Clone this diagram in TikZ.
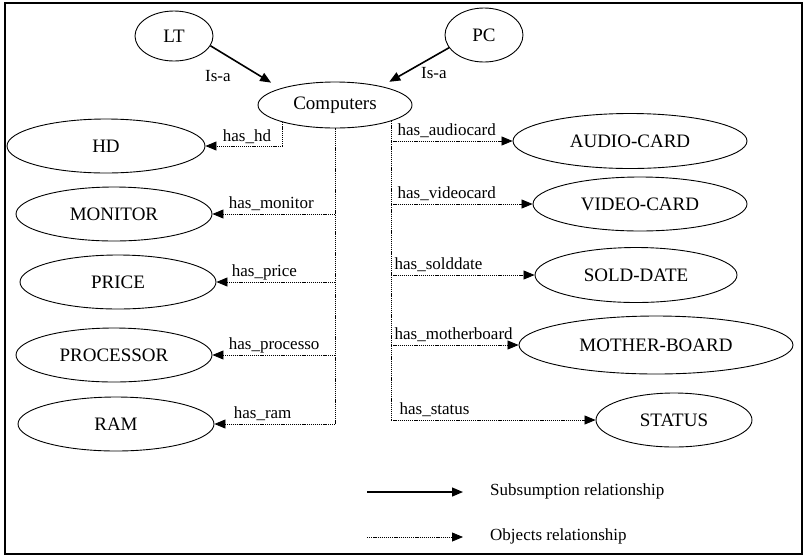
\documentclass[tikz,border=0pt]{standalone}
\usepackage{fontspec}
\setmainfont{Liberation Serif}
\usetikzlibrary{shapes.geometric,arrows.meta}
\tikzset{
  concept/.style={draw=black, line width=0.9pt, ellipse, inner sep=0pt, font=\fontsize{19}{21}\selectfont},
  subrel/.style={draw=black, line width=1.6pt, -{Triangle[length=11pt,width=9pt]}},
  objline/.style={draw=black, line width=0.8pt, dash pattern=on 1.2pt off 0.9pt},
  objrel/.style={objline, -{Triangle[length=11pt,width=9pt]}},
  rlabel/.style={font=\fontsize{17}{19}\selectfont, inner sep=0pt},
  legtext/.style={font=\fontsize{17}{19}\selectfont, inner sep=0pt, anchor=west},
}
\begin{document}
\begin{tikzpicture}[x=1pt,y=-1pt]
\useasboundingbox (0,0) rectangle (805,558);
\draw[line width=1.4pt] (5,3) rectangle (802,554);

% classes
\node[concept, minimum width=78pt, minimum height=50pt] (lt) at (174,36) {LT};
\node[concept, minimum width=78pt, minimum height=54pt] (pc) at (484,35) {PC};
\node[concept, minimum width=154pt, minimum height=46pt] (comp) at (335,105) {Computers};

% left-hand properties
\node[concept, minimum width=198pt, minimum height=54pt] (hd)   at (106,146) {HD};
\node[concept, minimum width=196pt, minimum height=54pt] (mon)  at (114,214) {MONITOR};
\node[concept, minimum width=196pt, minimum height=54pt] (pri)  at (118,282) {PRICE};
\node[concept, minimum width=196pt, minimum height=54pt] (proc) at (114,355) {PROCESSOR};
\node[concept, minimum width=196pt, minimum height=54pt] (ram)  at (116,424) {RAM};

% right-hand properties
\node[concept, minimum width=234pt, minimum height=55pt] (aud)  at (630,141) {AUDIO-CARD};
\node[concept, minimum width=214pt, minimum height=54pt] (vid)  at (640,204) {VIDEO-CARD};
\node[concept, minimum width=202pt, minimum height=55pt] (sold) at (636,275) {SOLD-DATE};
\node[concept, minimum width=274pt, minimum height=58pt] (mobo) at (656,345) {MOTHER-BOARD};
\node[concept, minimum width=156pt, minimum height=54pt] (stat) at (674,420) {STATUS};

% is-a links
\draw[subrel, shorten >=11pt] (lt.-15) -- (comp.163);
\draw[subrel, shorten >=9pt] (pc.200) -- (comp.22);
\node[rlabel, anchor=base west] (isa1) at (205,81) {Is-a};
\node[rlabel, anchor=base west] (isa2) at (421,78) {Is-a};

% has_hd
\draw[objrel] (comp.198) -- (comp.198 |- hd.east) -- (hd.east)
  node[rlabel, pos=1, anchor=base west, xshift=17pt, yshift=5pt] {has\_hd};

% left bus
\draw[objline] (comp.south) -- (comp.south |- ram.east);
\draw[objrel] (comp.south |- mon.east) -- (mon.east)
  node[rlabel, pos=1, anchor=base west, xshift=16pt, yshift=6pt] {has\_monitor};
\draw[objrel] (comp.south |- pri.east) -- (pri.east)
  node[rlabel, pos=1, anchor=base west, xshift=15pt, yshift=6pt] {has\_price};
\draw[objrel] (comp.south |- proc.east) -- (proc.east)
  node[rlabel, pos=1, anchor=base west, xshift=16pt, yshift=6pt] {has\_processo};
\draw[objrel] (comp.south |- ram.east) -- (ram.east)
  node[rlabel, pos=1, anchor=base west, xshift=19pt, yshift=6pt] {has\_ram};

% right bus
\draw[objline] (comp.-16) -- (comp.-16 |- stat.west);
\draw[objrel] (comp.-16 |- aud.west) -- (aud.west)
  node[rlabel, pos=0, anchor=base west, xshift=6pt, yshift=6pt] {has\_audiocard};
\draw[objrel] (comp.-16 |- vid.west) -- (vid.west)
  node[rlabel, pos=0, anchor=base west, xshift=6pt, yshift=6pt] {has\_videocard};
\draw[objrel] (comp.-16 |- sold.west) -- (sold.west)
  node[rlabel, pos=0, anchor=base west, xshift=3pt, yshift=6pt] {has\_solddate};
\draw[objrel] (comp.-16 |- mobo.west) -- (mobo.west)
  node[rlabel, pos=0, anchor=base west, xshift=3pt, yshift=6pt] {has\_motherboard};
\draw[objrel] (comp.-16 |- stat.west) -- (stat.west)
  node[rlabel, pos=0, anchor=base west, xshift=8pt, yshift=6pt] {has\_status};

% legend
\coordinate (la) at (367,492);
\coordinate (lb) at (463,492);
\coordinate (lc) at (367,537);
\coordinate (ld) at (463,537);
\draw[subrel, line width=1.2pt] (la) -- (lb);
\draw[objrel] (lc) -- (ld);
\node[legtext] (lsub) at (490,491) {Subsumption relationship};
\node[legtext] (lobj) at (490,536) {Objects relationship};
\end{tikzpicture}
\end{document}
